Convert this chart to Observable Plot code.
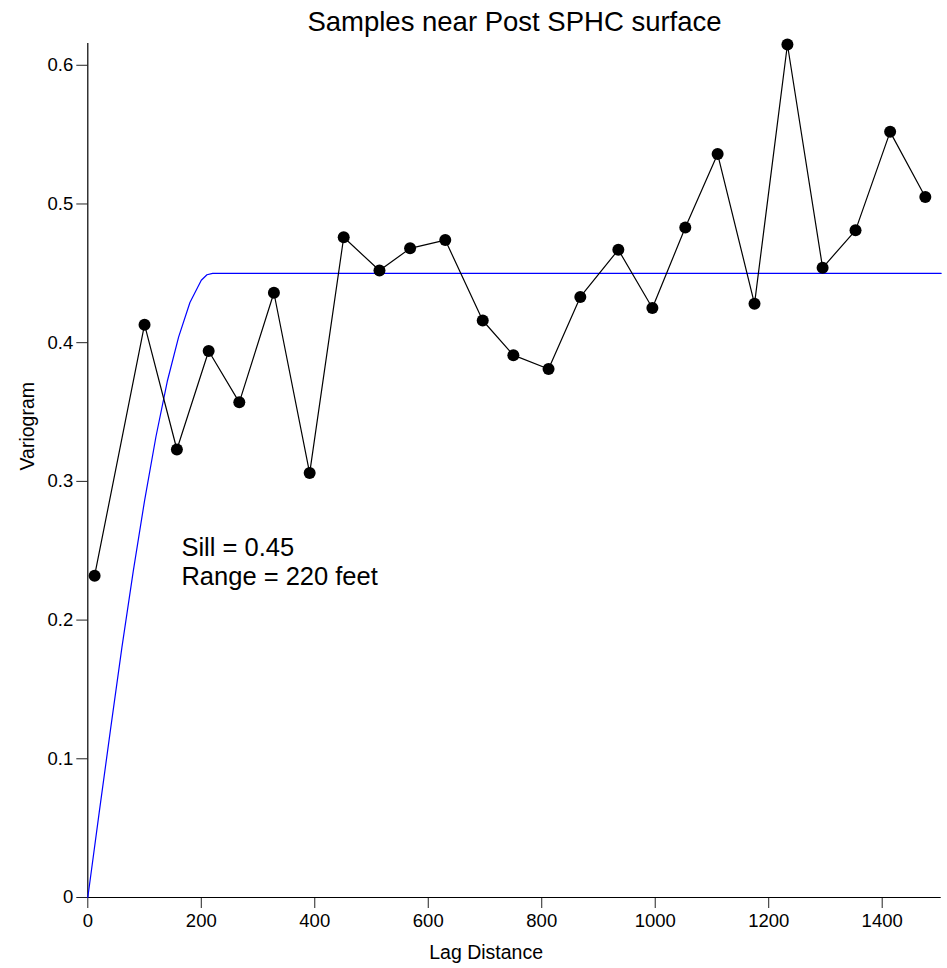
<!DOCTYPE html>
<html>
<head>
<meta charset="utf-8">
<script src="https://cdn.jsdelivr.net/npm/d3@7"></script>
<script src="https://cdn.jsdelivr.net/npm/@observablehq/plot@0.6"></script>
<style>
  html, body { margin: 0; padding: 0; background: #fff; }
  #chart svg { display: block; }
</style>
</head>
<body>
<div id="chart"></div>
<script>
const lags = [12, 100, 157, 213, 267, 328, 391, 451, 514, 568, 630, 696, 750, 812, 868, 935, 995, 1053, 1110, 1175, 1233, 1295, 1353, 1414, 1476];
const gamma = [0.232, 0.413, 0.323, 0.394, 0.357, 0.436, 0.306, 0.476, 0.452, 0.468, 0.474, 0.416, 0.391, 0.381, 0.433, 0.467, 0.425, 0.483, 0.536, 0.428, 0.615, 0.454, 0.481, 0.552, 0.505];

// Fitted spherical model curve
const modelLag = [0, 20, 40, 60, 80, 100, 120, 140, 160, 180, 200, 210, 220, 1504];
const modelGamma = [0, 0.061, 0.121, 0.180, 0.235, 0.286, 0.332, 0.372, 0.404, 0.429, 0.445, 0.449, 0.45, 0.45];

const xTicks = [0, 200, 400, 600, 800, 1000, 1200, 1400];
const yTicks = [0, 0.1, 0.2, 0.3, 0.4, 0.5, 0.6];
const titleText = "Samples near Post SPHC surface";
const xLabel = "Lag Distance";
const yLabel = "Variogram";
const notes = ["Sill = 0.45", "Range = 220 feet"];

const points = lags.map((x, i) => ({x, y: gamma[i]}));
const model = modelLag.map((x, i) => ({x, y: modelGamma[i]}));

const font = "'Liberation Sans', Arial, Helvetica, sans-serif";

const chart = Plot.plot({
  width: 947,
  height: 968,
  marginLeft: 87.3,
  marginRight: 6.3,
  marginTop: 43,
  marginBottom: 71,
  style: {fontFamily: font, color: "#000", background: "#fff"},
  x: {domain: [0, 1504]},
  y: {domain: [0, 0.6157]},
  marks: [
    Plot.axisX({ticks: xTicks, tickSize: 11, tickPadding: 5, tickFormat: d => String(d), fontSize: 18.5, label: null, stroke: "#222"}),
    Plot.axisY({ticks: yTicks, tickSize: 11, tickPadding: 3.5, tickFormat: d => String(d), fontSize: 18.5, label: null, stroke: "#222"}),
    Plot.ruleX([0], {stroke: "#000", strokeWidth: 1.2}),
    Plot.ruleY([0], {stroke: "#000", strokeWidth: 1.2}),
    Plot.line(model, {x: "x", y: "y", stroke: "#0000ff", strokeWidth: 1.2}),
    Plot.line(points, {x: "x", y: "y", stroke: "#000", strokeWidth: 1.2}),
    Plot.dot(points, {x: "x", y: "y", r: 6, fill: "#000", stroke: "none"}),
    Plot.text([notes[0]], {x: 165, y: 0.252, text: d => d, textAnchor: "start", lineAnchor: "middle", fontSize: 25.5, fill: "#000"}),
    Plot.text([notes[1]], {x: 165, y: 0.2314, text: d => d, textAnchor: "start", lineAnchor: "middle", fontSize: 25.5, fill: "#000"}),
    Plot.text([titleText], {frameAnchor: "top", dy: -21.3, text: d => d, lineAnchor: "middle", fontSize: 27.5, fill: "#000"}),
    Plot.text([xLabel], {x: 702, frameAnchor: "bottom", dy: 55, text: d => d, lineAnchor: "middle", fontSize: 19.5, fill: "#000"}),
    Plot.text([yLabel], {frameAnchor: "left", dx: -60, rotate: -90, text: d => d, lineAnchor: "middle", fontSize: 19.5, fill: "#000"})
  ]
});
document.getElementById("chart").appendChild(chart);
</script>
</body>
</html>
